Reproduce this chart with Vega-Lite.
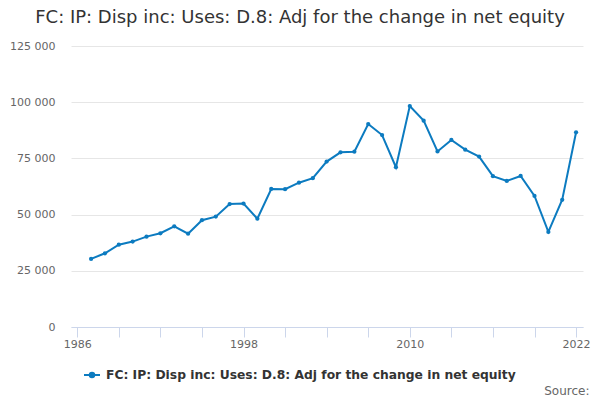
{
  "$schema": "https://vega.github.io/schema/vega-lite/v6.json",
  "autosize": {"type": "none"},
  "width": 512,
  "height": 281,
  "padding": {"left": 71, "top": 46, "right": 17, "bottom": 73},
  "background": "white",
  "title": {
    "text": "FC: IP: Disp inc: Uses: D.8: Adj for the change in net equity",
    "font": "DejaVu Sans",
    "fontSize": 18,
    "fontWeight": "normal",
    "color": "#333333",
    "anchor": "middle",
    "dx": -27,
    "offset": 13
  },
  "config": {
    "view": {"stroke": null},
    "font": "DejaVu Sans"
  },
  "data": {
    "values": [
      {"year": 1987, "value": 30300, "series": "FC: IP: Disp inc: Uses: D.8: Adj for the change in net equity"},
      {"year": 1988, "value": 32800, "series": "FC: IP: Disp inc: Uses: D.8: Adj for the change in net equity"},
      {"year": 1989, "value": 36600, "series": "FC: IP: Disp inc: Uses: D.8: Adj for the change in net equity"},
      {"year": 1990, "value": 38000, "series": "FC: IP: Disp inc: Uses: D.8: Adj for the change in net equity"},
      {"year": 1991, "value": 40200, "series": "FC: IP: Disp inc: Uses: D.8: Adj for the change in net equity"},
      {"year": 1992, "value": 41700, "series": "FC: IP: Disp inc: Uses: D.8: Adj for the change in net equity"},
      {"year": 1993, "value": 44800, "series": "FC: IP: Disp inc: Uses: D.8: Adj for the change in net equity"},
      {"year": 1994, "value": 41500, "series": "FC: IP: Disp inc: Uses: D.8: Adj for the change in net equity"},
      {"year": 1995, "value": 47500, "series": "FC: IP: Disp inc: Uses: D.8: Adj for the change in net equity"},
      {"year": 1996, "value": 49100, "series": "FC: IP: Disp inc: Uses: D.8: Adj for the change in net equity"},
      {"year": 1997, "value": 54700, "series": "FC: IP: Disp inc: Uses: D.8: Adj for the change in net equity"},
      {"year": 1998, "value": 54900, "series": "FC: IP: Disp inc: Uses: D.8: Adj for the change in net equity"},
      {"year": 1999, "value": 48200, "series": "FC: IP: Disp inc: Uses: D.8: Adj for the change in net equity"},
      {"year": 2000, "value": 61400, "series": "FC: IP: Disp inc: Uses: D.8: Adj for the change in net equity"},
      {"year": 2001, "value": 61300, "series": "FC: IP: Disp inc: Uses: D.8: Adj for the change in net equity"},
      {"year": 2002, "value": 64200, "series": "FC: IP: Disp inc: Uses: D.8: Adj for the change in net equity"},
      {"year": 2003, "value": 66200, "series": "FC: IP: Disp inc: Uses: D.8: Adj for the change in net equity"},
      {"year": 2004, "value": 73600, "series": "FC: IP: Disp inc: Uses: D.8: Adj for the change in net equity"},
      {"year": 2005, "value": 77700, "series": "FC: IP: Disp inc: Uses: D.8: Adj for the change in net equity"},
      {"year": 2006, "value": 78000, "series": "FC: IP: Disp inc: Uses: D.8: Adj for the change in net equity"},
      {"year": 2007, "value": 90300, "series": "FC: IP: Disp inc: Uses: D.8: Adj for the change in net equity"},
      {"year": 2008, "value": 85400, "series": "FC: IP: Disp inc: Uses: D.8: Adj for the change in net equity"},
      {"year": 2009, "value": 71100, "series": "FC: IP: Disp inc: Uses: D.8: Adj for the change in net equity"},
      {"year": 2010, "value": 98300, "series": "FC: IP: Disp inc: Uses: D.8: Adj for the change in net equity"},
      {"year": 2011, "value": 91800, "series": "FC: IP: Disp inc: Uses: D.8: Adj for the change in net equity"},
      {"year": 2012, "value": 78100, "series": "FC: IP: Disp inc: Uses: D.8: Adj for the change in net equity"},
      {"year": 2013, "value": 83200, "series": "FC: IP: Disp inc: Uses: D.8: Adj for the change in net equity"},
      {"year": 2014, "value": 78900, "series": "FC: IP: Disp inc: Uses: D.8: Adj for the change in net equity"},
      {"year": 2015, "value": 75800, "series": "FC: IP: Disp inc: Uses: D.8: Adj for the change in net equity"},
      {"year": 2016, "value": 67100, "series": "FC: IP: Disp inc: Uses: D.8: Adj for the change in net equity"},
      {"year": 2017, "value": 65000, "series": "FC: IP: Disp inc: Uses: D.8: Adj for the change in net equity"},
      {"year": 2018, "value": 67200, "series": "FC: IP: Disp inc: Uses: D.8: Adj for the change in net equity"},
      {"year": 2019, "value": 58300, "series": "FC: IP: Disp inc: Uses: D.8: Adj for the change in net equity"},
      {"year": 2020, "value": 42300, "series": "FC: IP: Disp inc: Uses: D.8: Adj for the change in net equity"},
      {"year": 2021, "value": 56600, "series": "FC: IP: Disp inc: Uses: D.8: Adj for the change in net equity"},
      {"year": 2022, "value": 86600, "series": "FC: IP: Disp inc: Uses: D.8: Adj for the change in net equity"}
    ]
  },
  "mark": {
    "type": "line",
    "strokeWidth": 2,
    "point": {"filled": true, "size": 18}
  },
  "encoding": {
    "x": {
      "field": "year",
      "type": "quantitative",
      "scale": {"domain": [1985.55, 2022.5], "nice": false, "zero": false},
      "axis": {
        "values": [1986, 1989, 1992, 1995, 1998, 2001, 2004, 2007, 2010, 2013, 2016, 2019, 2022],
        "labelExpr": "(datum.value - 1986) % 12 == 0 ? datum.value : ''",
        "grid": false,
        "domainColor": "#ccd6eb",
        "tickColor": "#ccd6eb",
        "tickSize": 10,
        "labelFontSize": 11,
        "labelColor": "#666666",
        "labelPadding": 1,
        "title": "Source:",
        "titleFontSize": 12,
        "titleFontWeight": "normal",
        "titleColor": "#666666",
        "titleAnchor": "end",
        "titleAlign": "right",
        "titleBaseline": "middle",
        "titleX": 518,
        "titleY": 63
      }
    },
    "y": {
      "field": "value",
      "type": "quantitative",
      "scale": {"domain": [0, 125000], "nice": false},
      "axis": {
        "values": [0, 25000, 50000, 75000, 100000, 125000],
        "labelExpr": "replace(format(datum.value, ','), regexp(',', 'g'), ' ')",
        "domain": false,
        "ticks": false,
        "gridColor": "#e6e6e6",
        "labelFontSize": 11,
        "labelColor": "#666666",
        "labelPadding": 16,
        "title": null
      }
    },
    "color": {
      "field": "series",
      "type": "nominal",
      "scale": {"range": ["#0c7bc0"]},
      "legend": {
        "orient": "none",
        "legendX": 12,
        "legendY": 320,
        "padding": 0,
        "title": null,
        "symbolType": "M-1,0L1,0M-0.28,0A0.28,0.28 0 1,0 0.28,0A0.28,0.28 0 1,0 -0.28,0Z",
        "symbolSize": 256,
        "symbolStrokeWidth": 2,
        "symbolFillColor": "#0c7bc0",
        "labelFont": "DejaVu Sans",
        "labelFontSize": 12.3,
        "labelFontWeight": "bold",
        "labelColor": "#333333",
        "labelLimit": 500,
        "labelOffset": 5
      }
    }
  }
}
